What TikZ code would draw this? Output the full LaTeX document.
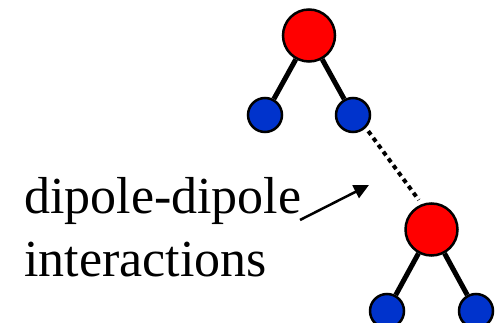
\documentclass[tikz,border=0pt]{standalone}
\usepackage{fontspec}
\setmainfont{Liberation Serif}
\newfontfamily\captionfont{Liberation Serif}
\usetikzlibrary{arrows.meta}
\definecolor{atomred}{RGB}{255,0,0}
\definecolor{atomblue}{RGB}{0,51,204}
\begin{document}
\begin{tikzpicture}[x=1pt,y=-1pt,
  bigatom/.style={circle,draw=black,line width=2.5pt,fill=atomred,minimum size=52pt,inner sep=0pt},
  smallatom/.style={circle,draw=black,line width=2.5pt,fill=atomblue,minimum size=34pt,inner sep=0pt},
  bond/.style={line width=5pt},
  hbond/.style={line width=4pt,dash pattern=on 4.5pt off 4pt,shorten <=4pt,shorten >=5pt},
  caption/.style={font=\captionfont\fontsize{52}{63}\selectfont,inner sep=0pt,anchor=base west},
  pointer/.style={line width=2.5pt,-{Triangle[length=15pt,width=14pt]}}]
\useasboundingbox (0,0) rectangle (497,323);

% upper molecule
\node[bigatom] (o1) at (309,35.5) {};
\node[smallatom] (h1) at (265,115) {};
\node[smallatom] (h2) at (353,115) {};

% lower molecule
\node[bigatom] (o2) at (431.5,229.5) {};
\node[smallatom] (h3) at (387,311) {};
\node[smallatom] (h4) at (476,311) {};

% covalent bonds
\draw[bond] (o1) -- (h1);
\draw[bond] (o1) -- (h2);
\draw[bond] (o2) -- (h3);
\draw[bond] (o2) -- (h4);

% dipole-dipole contact
\draw[hbond] (h2.-45) -- (o2.111);

% caption
\node[caption] (t1) at (24,213) {dipole-dipole};
\node[caption] (t2) at (24,276) {interactions};

\coordinate (p1) at (300,220);
\coordinate (p2) at (369,185);
\draw[pointer] (p1) -- (p2);
\end{tikzpicture}
\end{document}
